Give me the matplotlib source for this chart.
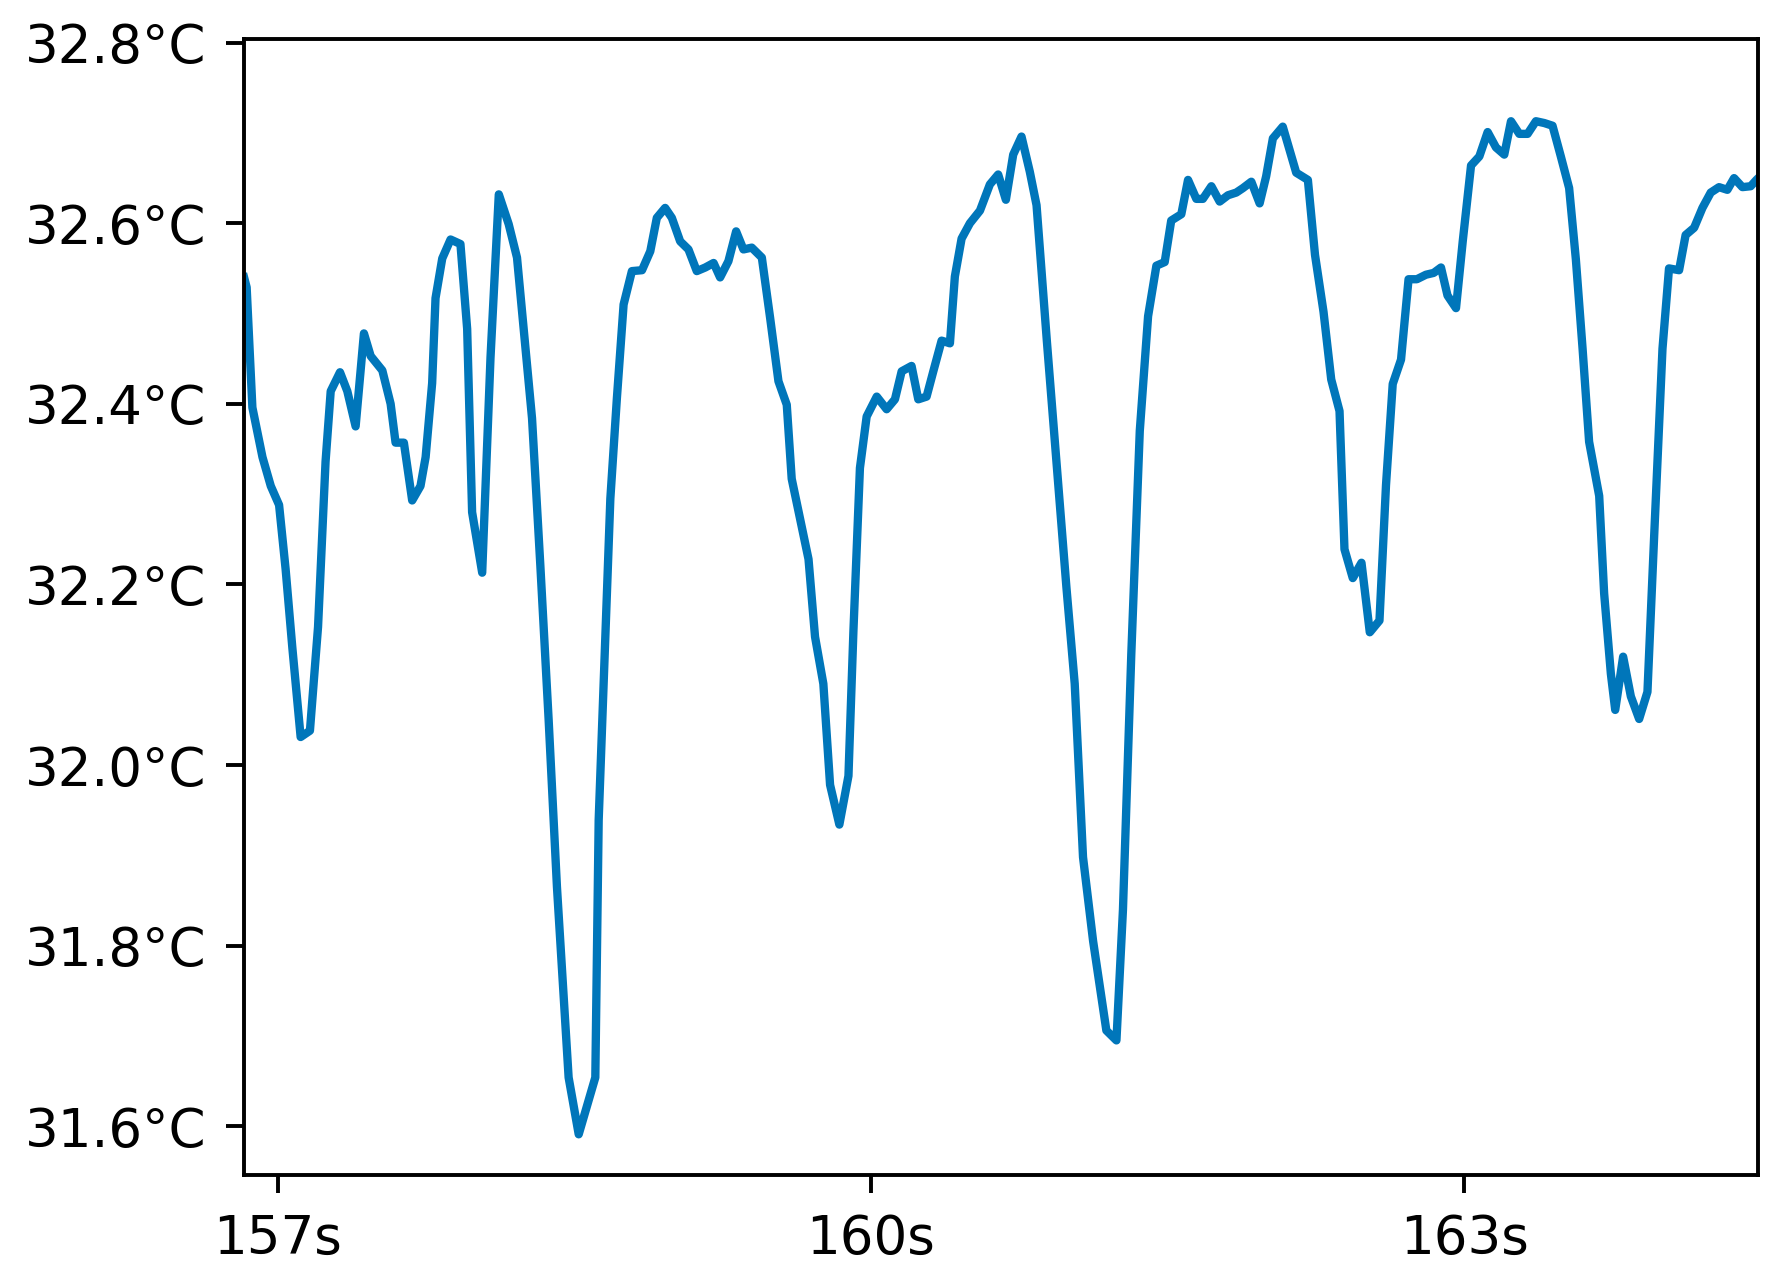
import numpy as np
import matplotlib
matplotlib.use("Agg")
import matplotlib.pyplot as plt

# time (s) and temperature (°C)
time_s = [
    156.83, 156.843, 156.872, 156.923, 156.965, 157.007, 157.040, 157.074, 157.116, 157.163,
    157.204, 157.242, 157.268, 157.315, 157.352, 157.394, 157.436, 157.470, 157.503, 157.529,
    157.571, 157.596, 157.638, 157.680, 157.722, 157.748, 157.781, 157.798, 157.832, 157.874,
    157.924, 157.958, 157.983, 158.034, 158.076, 158.118, 158.168, 158.210, 158.286, 158.328,
    158.370, 158.412, 158.471, 158.522, 158.606, 158.623, 158.682, 158.715, 158.749, 158.791,
    158.842, 158.884, 158.917, 158.959, 158.993, 159.035, 159.077, 159.119, 159.162, 159.204,
    159.237, 159.279, 159.318, 159.355, 159.397, 159.448, 159.490, 159.532, 159.574, 159.599,
    159.641, 159.684, 159.717, 159.759, 159.793, 159.840, 159.886, 159.911, 159.944, 159.978,
    160.029, 160.079, 160.121, 160.155, 160.205, 160.239, 160.281, 160.315, 160.357, 160.399,
    160.424, 160.458, 160.500, 160.551, 160.601, 160.643, 160.682, 160.719, 160.761, 160.803,
    160.837, 160.889, 160.940, 160.988, 161.030, 161.072, 161.123, 161.190, 161.241, 161.274,
    161.316, 161.359, 161.401, 161.443, 161.485, 161.518, 161.569, 161.603, 161.645, 161.678,
    161.721, 161.763, 161.805, 161.847, 161.881, 161.923, 161.965, 161.998, 162.032, 162.082,
    162.150, 162.209, 162.245, 162.288, 162.327, 162.369, 162.394, 162.436, 162.480, 162.522,
    162.571, 162.604, 162.638, 162.680, 162.718, 162.760, 162.806, 162.845, 162.882, 162.915,
    162.958, 162.992, 163.034, 163.076, 163.118, 163.160, 163.202, 163.236, 163.278, 163.320,
    163.362, 163.404, 163.446, 163.488, 163.530, 163.564, 163.598, 163.631, 163.682, 163.707,
    163.741, 163.763, 163.803, 163.842, 163.884, 163.926, 163.960, 164.002, 164.035, 164.086,
    164.119, 164.162, 164.204, 164.246, 164.288, 164.330, 164.364, 164.406, 164.448, 164.477,
    164.51,
]
temp_c = [
    32.54, 32.529, 32.396, 32.341, 32.309, 32.288, 32.217, 32.130, 32.031, 32.038,
    32.153, 32.336, 32.414, 32.435, 32.414, 32.375, 32.478, 32.453, 32.444, 32.437,
    32.400, 32.357, 32.357, 32.293, 32.309, 32.341, 32.423, 32.517, 32.561, 32.582,
    32.577, 32.483, 32.280, 32.213, 32.451, 32.632, 32.599, 32.562, 32.384, 32.221,
    32.050, 31.865, 31.654, 31.591, 31.654, 31.939, 32.295, 32.406, 32.510, 32.547,
    32.548, 32.569, 32.606, 32.617, 32.606, 32.580, 32.571, 32.547, 32.551, 32.556,
    32.540, 32.558, 32.591, 32.571, 32.573, 32.562, 32.495, 32.425, 32.399, 32.317,
    32.273, 32.228, 32.142, 32.090, 31.978, 31.934, 31.988, 32.148, 32.329, 32.386,
    32.408, 32.394, 32.405, 32.436, 32.442, 32.405, 32.408, 32.436, 32.470, 32.467,
    32.541, 32.583, 32.600, 32.614, 32.643, 32.654, 32.626, 32.676, 32.696, 32.657,
    32.620, 32.470, 32.330, 32.197, 32.090, 31.898, 31.805, 31.706, 31.695, 31.840,
    32.122, 32.370, 32.497, 32.553, 32.557, 32.603, 32.610, 32.648, 32.627, 32.627,
    32.641, 32.624, 32.631, 32.634, 32.639, 32.646, 32.622, 32.652, 32.694, 32.707,
    32.656, 32.648, 32.565, 32.502, 32.427, 32.392, 32.239, 32.207, 32.224, 32.147,
    32.160, 32.310, 32.422, 32.449, 32.538, 32.538, 32.543, 32.545, 32.551, 32.520,
    32.506, 32.580, 32.664, 32.674, 32.701, 32.684, 32.676, 32.713, 32.699, 32.699,
    32.713, 32.711, 32.708, 32.674, 32.639, 32.560, 32.461, 32.358, 32.298, 32.190,
    32.101, 32.061, 32.120, 32.076, 32.051, 32.081, 32.254, 32.461, 32.550, 32.548,
    32.587, 32.595, 32.617, 32.634, 32.640, 32.637, 32.650, 32.640, 32.641, 32.648,
    32.655,
]

x_ticks = [157, 160, 163]
y_ticks = [31.6, 31.8, 32.0, 32.2, 32.4, 32.6, 32.8]

fig = plt.figure(figsize=(8.895, 6.36), dpi=200)
ax = fig.add_axes([0.1372, 0.0763, 0.851, 0.893])

ax.plot(time_s, temp_c, color="#0076BA", linewidth=3.0)

ax.set_xlim(156.83, 164.485)
ax.set_ylim(31.546, 32.804)
ax.set_xticks(x_ticks)
ax.set_xticklabels([f"{v}s" for v in x_ticks])
ax.set_yticks(y_ticks)
ax.set_yticklabels([f"{v:.1f}°C" for v in y_ticks])

ax.tick_params(axis="both", labelsize=19.1, length=6.5, width=1.4, pad=7)
for spine in ax.spines.values():
    spine.set_linewidth(1.4)

fig.savefig("out.png", dpi=200)
